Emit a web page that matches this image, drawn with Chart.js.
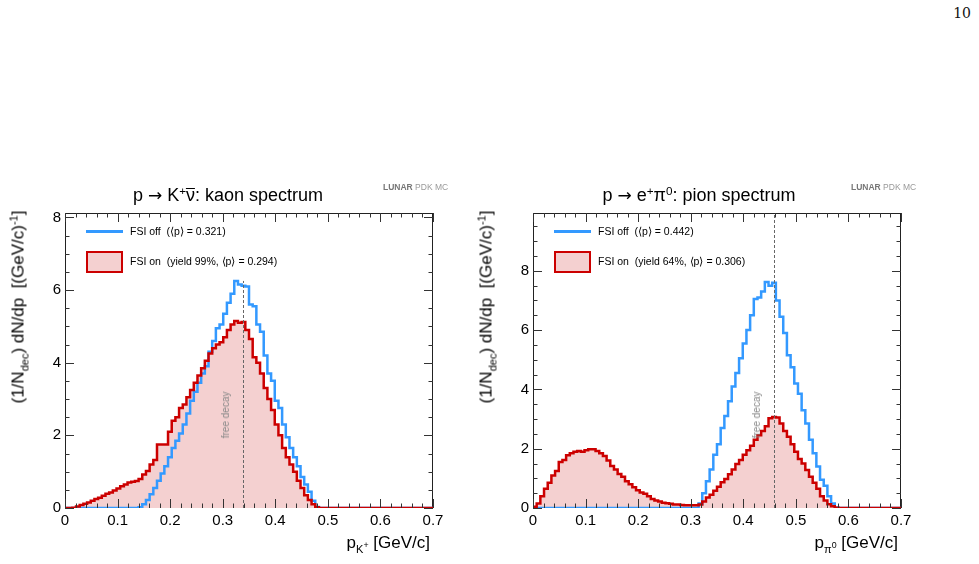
<!DOCTYPE html>
<html>
<head>
<meta charset="utf-8">
<script src="https://cdn.jsdelivr.net/npm/chart.js@4.4.1/dist/chart.umd.min.js"></script>
<style>
  body { margin: 0; background: #fff; width: 979px; height: 564px; position: relative; overflow: hidden;
         font-family: "Liberation Sans", Arial, sans-serif; color: #000; }
  canvas { position: absolute; }
  .t { position: absolute; white-space: nowrap; font-weight: 400; }
  sup, sub { font-size: 65%; vertical-align: baseline; position: relative; }
  sup { top: -0.55em; }
  sub { top: 0.45em; }
  sub sup { font-size: 80%; top: -0.6em; }
  .page { font-family: "DejaVu Serif", "Liberation Serif", serif; font-size: 14px; line-height: 14px; right: 8px; top: 6px; color: #111; }
  .title { font-size: 18px; line-height: 18px; transform: translateX(-50%); }
  .arrow { font-family: "DejaVu Sans", sans-serif; font-size: 17px; }
  .bar { display: inline-block; line-height: 13px; border-top: 1.3px solid #000; }
  .ytitle { font-size: 17px; line-height: 17px; transform: translate(-50%, -50%) rotate(-90deg); }
  .xtitle { font-size: 17px; line-height: 17px; }
  .ltext { font-size: 10.5px; line-height: 11px; }
  .lline { position: absolute; width: 37px; height: 3px; background: #3399ff; }
  .lbox { position: absolute; width: 37px; height: 22px; box-sizing: border-box; border: 2.5px solid #cc0000; background: #f4d0d0; }
  .fd { font-size: 10px; line-height: 10px; color: #888; transform: translate(-50%, -50%) rotate(-90deg); }
  .lunar { font-size: 8.5px; line-height: 9px; color: #999; }
  .lunar b { color: #777; }
</style>
</head>
<body>
<div class="t page">10</div>

<canvas id="kaon" width="460" height="340" style="left:0px;top:200px"></canvas>
<canvas id="pion" width="460" height="340" style="left:468px;top:200px"></canvas>

<!-- kaon panel text -->
<div class="t title" style="left:228px;top:186px">p <span class="arrow">→</span> K<sup>+</sup><span class="bar">ν</span>: kaon spectrum</div>
<div class="t lunar" style="left:383px;top:183px"><b>LUNAR</b> PDK MC</div>
<div class="t ytitle" style="left:19px;top:307px">(1/N<sub>dec</sub>) dN/dp&nbsp;&nbsp;[(GeV/c)<sup>-1</sup>]</div>
<div class="t xtitle" style="right:549px;top:534px">p<sub>K<sup>+</sup></sub> [GeV/c]</div>
<div class="lline" style="left:86px;top:230px"></div>
<div class="lbox" style="left:86px;top:251px"></div>
<div class="t ltext" style="left:130px;top:226px">FSI off&nbsp;&nbsp;(⟨p⟩ = 0.321)</div>
<div class="t ltext" style="left:130px;top:256px">FSI on&nbsp;&nbsp;(yield 99%, ⟨p⟩ = 0.294)</div>
<div class="t fd" style="left:226px;top:415px">free decay</div>

<!-- pion panel text -->
<div class="t title" style="left:699px;top:186px">p <span class="arrow">→</span> e<sup>+</sup>π<sup>0</sup>: pion spectrum</div>
<div class="t lunar" style="left:851px;top:183px"><b>LUNAR</b> PDK MC</div>
<div class="t ytitle" style="left:487px;top:307px">(1/N<sub>dec</sub>) dN/dp&nbsp;&nbsp;[(GeV/c)<sup>-1</sup>]</div>
<div class="t xtitle" style="right:81px;top:534px">p<sub>π<sup>0</sup></sub> [GeV/c]</div>
<div class="lline" style="left:554px;top:230px"></div>
<div class="lbox" style="left:554px;top:251px"></div>
<div class="t ltext" style="left:598px;top:226px">FSI off&nbsp;&nbsp;(⟨p⟩ = 0.442)</div>
<div class="t ltext" style="left:598px;top:256px">FSI on&nbsp;&nbsp;(yield 64%, ⟨p⟩ = 0.306)</div>
<div class="t fd" style="left:757px;top:415px">free decay</div>

<script>
// histogram range: 100 bins from 0 to 0.7 GeV/c
const pMin = 0;
const pMax = 0.7;

// p -> K+ nubar, kaon momentum
const kaonFsiOff = [
  0, 0, 0, 0, 0, 0, 0, 0, 0, 0,
  0, 0, 0, 0, 0, 0, 0, 0, 0, 0,
  0.02, 0.1, 0.22, 0.38, 0.55, 0.75, 0.95, 1.15, 1.4, 1.65,
  1.85, 2.05, 2.3, 2.6, 2.95, 3.2, 3.45, 3.7, 3.9, 4.3,
  4.6, 4.95, 5.05, 5.35, 5.65, 5.9, 6.25, 6.15, 6.12, 6.1,
  5.6, 5.55, 5.05, 4.85, 4.2, 3.7, 3.5, 2.95, 2.75, 2.3,
  1.95, 1.65, 1.4, 1.15, 0.85, 0.65, 0.45, 0.2, 0.03, 0,
  0, 0, 0, 0, 0, 0, 0, 0, 0, 0,
  0, 0, 0, 0, 0, 0, 0, 0, 0, 0,
  0, 0, 0, 0, 0, 0, 0, 0, 0, 0
];
const kaonFsiOn = [
  0, 0, 0.01, 0.04, 0.08, 0.12, 0.15, 0.2, 0.25, 0.28,
  0.34, 0.39, 0.43, 0.48, 0.54, 0.6, 0.65, 0.7, 0.72, 0.74,
  0.8, 0.92, 1.02, 1.2, 1.32, 1.75, 1.75, 1.75, 2.1, 2.4,
  2.5, 2.75, 2.85, 3.05, 3.25, 3.45, 3.65, 3.85, 4.05, 4.25,
  4.4, 4.5, 4.56, 4.7, 4.9, 5.05, 5.15, 5.1, 5.12, 4.9,
  4.65, 4.15, 4.0, 3.7, 3.3, 3.0, 2.7, 2.3, 2.0, 1.65,
  1.4, 1.2, 1.0, 0.75, 0.55, 0.35, 0.22, 0.1, 0.02, 0,
  0, 0, 0, 0, 0, 0, 0, 0, 0, 0,
  0, 0, 0, 0, 0, 0, 0, 0, 0, 0,
  0, 0, 0, 0, 0, 0, 0, 0, 0, 0
];

// p -> e+ pi0, pion momentum
const pionFsiOff = [
  0, 0, 0, 0, 0, 0, 0, 0, 0, 0,
  0, 0, 0, 0, 0, 0, 0, 0, 0, 0,
  0, 0, 0, 0, 0, 0, 0, 0, 0, 0,
  0, 0, 0, 0, 0, 0, 0, 0, 0, 0,
  0, 0, 0, 0, 0, 0.15, 0.5, 0.9, 1.3, 1.8,
  2.15, 2.7, 3.1, 3.6, 4.1, 4.55, 5.05, 5.55, 6.0, 6.5,
  7.05, 7.1, 7.3, 7.62, 7.5, 7.6, 7.0, 6.45, 5.9, 5.15,
  4.75, 4.2, 3.85, 3.3, 2.85, 2.3, 1.85, 1.4, 0.95, 0.75,
  0.4, 0.15, 0.02, 0, 0, 0, 0, 0, 0, 0,
  0, 0, 0, 0, 0, 0, 0, 0, 0, 0
];
const pionFsiOn = [
  0.04, 0.15, 0.4, 0.65, 0.85, 1.1, 1.25, 1.55, 1.62, 1.78,
  1.85, 1.9, 1.92, 1.9, 1.95, 1.98, 1.98, 1.92, 1.85, 1.75,
  1.6, 1.42, 1.3, 1.15, 1.05, 0.9, 0.8, 0.7, 0.6, 0.52,
  0.48, 0.4, 0.3, 0.25, 0.22, 0.18, 0.16, 0.14, 0.12, 0.12,
  0.1, 0.09, 0.09, 0.09, 0.09, 0.12, 0.22, 0.35, 0.45, 0.58,
  0.72, 0.87, 0.98, 1.14, 1.3, 1.48, 1.62, 1.8, 1.95, 2.1,
  2.3, 2.45, 2.6, 2.76, 3.03, 3.07, 3.05, 2.85, 2.6, 2.4,
  2.15, 1.9, 1.65, 1.5, 1.28, 1.05, 0.85, 0.65, 0.4, 0.25,
  0.13, 0.06, 0.01, 0, 0, 0, 0, 0, 0, 0,
  0, 0, 0, 0, 0, 0, 0, 0, 0, 0
];

// axis ticks
const xTicks = [0, 0.1, 0.2, 0.3, 0.4, 0.5, 0.6, 0.7];
const kaonYTicks = [0, 2, 4, 6, 8];
const pionYTicks = [0, 2, 4, 6, 8];
const kaonYMax = 8.12;
const pionYMax = 9.95;

// free-decay momenta (dashed markers)
const kaonFreeDecay = 0.339;
const pionFreeDecay = 0.459;
const kaonMarkerTop = 6.25;

const BLUE = '#3399ff';
const RED = '#cc0000';
const PINK = '#f4d0d0';
const tickFont = { family: '"Liberation Sans", Arial, sans-serif', size: 15 };

// step histogram: one point per bin low edge plus the closing edge
function histPoints(vals) {
  const w = (pMax - pMin) / vals.length;
  const pts = vals.map((v, i) => ({ x: pMin + i * w, y: v }));
  pts.push({ x: pMax, y: vals[vals.length - 1] });
  return pts;
}

// ROOT-like frame with inward ticks on all four sides
const frameTicks = {
  id: 'frameTicks',
  beforeDatasetsDraw(chart) {
    const { ctx, chartArea: a } = chart;
    ctx.save();
    ctx.strokeStyle = '#222';
    ctx.lineWidth = 1;
    ctx.strokeRect(a.left + 0.5, a.top + 0.5, a.right - a.left - 1, a.bottom - a.top - 1);
    ctx.restore();
  },
  afterDatasetsDraw(chart, args, opts) {
    const { ctx, chartArea: a } = chart;
    const x = chart.scales.x, y = chart.scales.y;
    const seg = (x1, y1, x2, y2) => { ctx.beginPath(); ctx.moveTo(x1, y1); ctx.lineTo(x2, y2); ctx.stroke(); };
    ctx.save();
    // free decay line
    const mx = Math.round(x.getPixelForValue(opts.marker)) + 0.5;
    const mTop = opts.markerTop == null ? a.top : y.getPixelForValue(opts.markerTop);
    ctx.strokeStyle = '#666';
    ctx.lineWidth = 1;
    ctx.setLineDash([3, 2]);
    seg(mx, a.bottom, mx, mTop);
    ctx.setLineDash([]);
    // ticks
    ctx.strokeStyle = '#333';
    for (let k = 0; k <= 35; k++) {
      const px = Math.round(x.getPixelForValue(k * 0.02)) + 0.5;
      const len = k % 5 === 0 ? 9 : 4.5;
      seg(px, a.bottom, px, a.bottom - len);
      seg(px, a.top, px, a.top + len);
    }
    for (let k = 0; k * 0.5 <= y.max; k++) {
      const py = Math.round(y.getPixelForValue(k * 0.5)) + 0.5;
      const len = k % 4 === 0 ? 9 : 4.5;
      seg(a.left, py, a.left + len, py);
      seg(a.right, py, a.right - len, py);
    }
    ctx.restore();
  }
};

function makePanel(id, offVals, onVals, yMax, yTicks, marker, markerTop) {
  const line = { stepped: true, pointRadius: 0, borderWidth: 2.5, fill: false };
  return new Chart(document.getElementById(id), {
    type: 'line',
    data: {
      datasets: [
        { ...line, data: histPoints(onVals), borderColor: RED },
        { ...line, data: histPoints(offVals), borderColor: BLUE },
        { ...line, data: histPoints(onVals), borderColor: 'rgba(0,0,0,0)', borderWidth: 0,
          backgroundColor: PINK, fill: 'origin' }
      ]
    },
    options: {
      responsive: false,
      animation: false,
      devicePixelRatio: 1,
      layout: { padding: { left: 0, right: 27, top: 9, bottom: 0 } },
      plugins: {
        legend: { display: false },
        tooltip: { enabled: false },
        frameTicks: { marker, markerTop }
      },
      scales: {
        x: {
          type: 'linear', min: pMin, max: pMax,
          afterFit: s => { s.height = 32; },
          afterBuildTicks: s => { s.ticks = xTicks.map(v => ({ value: v })); },
          grid: { display: false, drawTicks: false },
          border: { display: false },
          ticks: { font: tickFont, color: '#000', padding: 4, maxRotation: 0, autoSkip: false,
                   callback: v => (v === 0 ? '0' : v.toFixed(1)) }
        },
        y: {
          type: 'linear', min: 0, max: yMax,
          afterFit: s => { s.width = 65; },
          afterBuildTicks: s => { s.ticks = yTicks.map(v => ({ value: v })); },
          grid: { display: false, drawTicks: false },
          border: { display: false },
          ticks: { font: tickFont, color: '#000', padding: 4, callback: v => String(v) }
        }
      }
    },
    plugins: [frameTicks]
  });
}

makePanel('kaon', kaonFsiOff, kaonFsiOn, kaonYMax, kaonYTicks, kaonFreeDecay, kaonMarkerTop);
makePanel('pion', pionFsiOff, pionFsiOn, pionYMax, pionYTicks, pionFreeDecay, null);
</script>
</body>
</html>
